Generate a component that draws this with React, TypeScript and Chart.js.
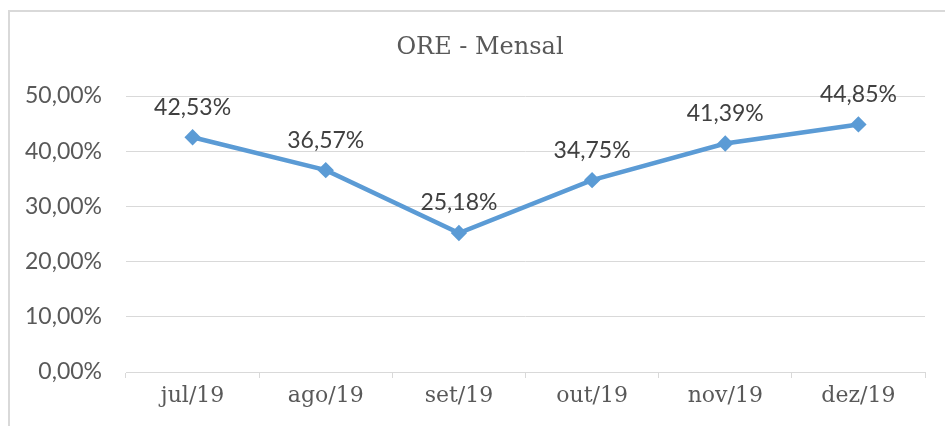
import React, { useEffect, useRef } from "react";
import { Chart, registerables } from "chart.js";
Chart.register(...registerables);

const categories = ["jul/19", "ago/19", "set/19", "out/19", "nov/19", "dez/19"];
const values = [42.53, 36.57, 25.18, 34.75, 41.39, 44.85];
const valueLabels = ["42,53%", "36,57%", "25,18%", "34,75%", "41,39%", "44,85%"];
const titleText = "ORE - Mensal";

const TEXT = "#595959";
const NUM_FONT = "Lato, 'Noto Sans', sans-serif";
const SERIF_FONT = "'DejaVu Serif', serif";

export default function App() {
  const ref = useRef<HTMLCanvasElement | null>(null);
  useEffect(() => {
    if (!ref.current) return;
    const decor = {
      id: "decor",
      beforeDraw(chart: any) {
        const c = chart.ctx;
        c.save();
        c.fillStyle = "#ffffff";
        c.fillRect(0, 0, chart.width, chart.height);
        c.strokeStyle = "#d9d9d9";
        c.lineWidth = 2;
        c.beginPath();
        c.moveTo(9, chart.height + 5);
        c.lineTo(9, 11);
        c.lineTo(chart.width + 5, 11);
        c.stroke();
        c.fillStyle = TEXT;
        c.font = "24px " + SERIF_FONT;
        c.textAlign = "center";
        c.textBaseline = "middle";
        c.fillText(titleText, 480, 48);
        c.restore();
      },
      afterDatasetsDraw(chart: any) {
        const c = chart.ctx;
        const meta = chart.getDatasetMeta(0);
        c.save();
        c.fillStyle = "#404040";
        c.font = "23px " + NUM_FONT;
        c.textAlign = "center";
        c.textBaseline = "middle";
        meta.data.forEach((p: any, i: number) => {
          c.fillText(valueLabels[i], p.x, p.y - 30);
        });
        c.restore();
      },
    };
    const chart = new Chart(ref.current, {
      type: "line",
      data: {
        labels: categories,
        datasets: [
          {
            data: values,
            borderColor: "#5b9bd5",
            backgroundColor: "#5b9bd5",
            borderWidth: 4.5,
            pointStyle: "rectRot",
            pointRadius: 5,
            pointHoverRadius: 5,
            tension: 0,
          },
        ],
      },
      options: {
        animation: false,
        responsive: false,
        maintainAspectRatio: false,
        layout: { padding: { top: 96, right: 20, left: 0, bottom: 0 } },
        plugins: { legend: { display: false }, tooltip: { enabled: false }, title: { display: false } },
        scales: {
          x: {
            offset: true,
            afterFit(s: any) { s.height = 54; },
            grid: {
              offset: true,
              drawOnChartArea: false,
              drawTicks: true,
              tickLength: 6,
              color: "#d9d9d9",
            },
            border: { color: "#d9d9d9", width: 1 },
            ticks: { color: TEXT, font: { family: SERIF_FONT, size: 22 }, padding: 5 },
          },
          y: {
            min: 0,
            max: 50,
            afterFit(s: any) { s.width = 126; },
            grid: { color: "#d9d9d9", drawTicks: false },
            border: { display: false },
            ticks: {
              stepSize: 10,
              color: TEXT,
              padding: 24,
              font: { family: NUM_FONT, size: 23 },
              callback: (v: any) => Number(v).toFixed(2).replace(".", ",") + "%",
            },
          },
        },
      },
      plugins: [decor],
    });
    return () => chart.destroy();
  }, []);
  return (
    <div style={{ position: "fixed", left: 0, top: 0, width: 945, height: 426, background: "#fff" }}>
      <canvas ref={ref} width={945} height={426} style={{ display: "block" }} />
    </div>
  );
}
